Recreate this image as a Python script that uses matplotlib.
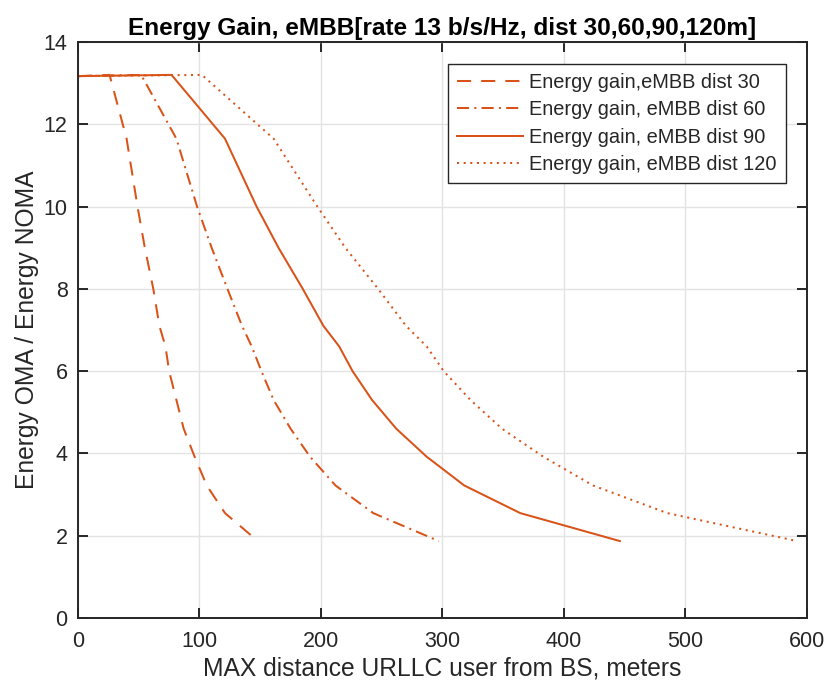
import matplotlib
matplotlib.use('Agg')
import matplotlib.pyplot as plt

plt.rcParams['font.family'] = ['Liberation Sans', 'DejaVu Sans']

# Energy gain curves (x in meters)
gain = [13.17, 13.2, 11.65, 10.0, 9.0, 8.0, 7.1, 6.6, 6.0, 5.3, 4.6, 3.92, 3.22, 2.55, 1.87]
x_d30 = [0, 26, 40, 49, 55, 62, 67, 72, 75, 81, 87, 96, 106, 121, 148]
x_d60 = [0, 52, 81, 98, 110, 123, 135, 143, 151, 161, 175, 191, 212, 243, 297]
x_d90 = [0, 77, 121, 147, 165, 185, 202, 215, 226, 242, 262, 287, 318, 364, 446]
x_d120 = [0, 102, 161, 197, 220, 247, 270, 287, 301, 323, 349, 383, 424, 485, 592]

labels = ['Energy gain,eMBB dist 30', 'Energy gain, eMBB dist 60',
          'Energy gain, eMBB dist 90', 'Energy gain, eMBB dist 120']

col = '#D95319'
axc = '#262626'

fig = plt.figure(figsize=(8.27, 6.87), dpi=100)
ax = fig.add_axes([0.0943, 0.1004, 0.8815, 0.8385])

ax.plot(x_d30, gain, color=col, lw=1.45, dashes=(7, 5), label=labels[0])
ax.plot(x_d60, gain, color=col, lw=1.45, dashes=(6, 2.6, 1, 2.6), label=labels[1])
ax.plot(x_d90, gain, color=col, lw=1.45, ls='-', label=labels[2])
ax.plot(x_d120, gain, color=col, lw=1.45, dashes=(1, 2.3), label=labels[3])

ax.set_xlim(0, 600)
ax.set_ylim(0, 14)
ax.set_xticks(range(0, 601, 100))
ax.set_yticks(range(0, 15, 2))
ax.grid(True, color='#e3e3e3', lw=1.0)
ax.set_axisbelow(True)
for s in ax.spines.values():
    s.set_color(axc)
    s.set_linewidth(1.4)
ax.tick_params(which='both', direction='in', top=True, right=True,
               length=7, width=1.4, color=axc, labelcolor=axc,
               labelsize=15.5)
ax.tick_params(axis='x', pad=9.5)
ax.tick_params(axis='y', pad=7.5)

ax.set_xlabel('MAX distance URLLC user from BS, meters', fontsize=17.7,
              color=axc, labelpad=3)
ax.set_ylabel('Energy OMA / Energy NOMA', fontsize=17.7, color=axc,
              labelpad=3)
ax.set_title('Energy Gain, eMBB[rate 13 b/s/Hz, dist 30,60,90,120m]',
             fontsize=17.6, fontweight='bold', color='black', pad=5)

leg = ax.legend(loc='upper right', bbox_to_anchor=(0.971, 0.962),
                fontsize=14.4, handlelength=3.3, handletextpad=0.3,
                labelspacing=0.42, borderpad=0.45, borderaxespad=0,
                fancybox=False, framealpha=1, edgecolor=axc)
leg.get_frame().set_linewidth(1.0)
for t in leg.get_texts():
    t.set_color(axc)

fig.savefig('out.png', dpi=100)
